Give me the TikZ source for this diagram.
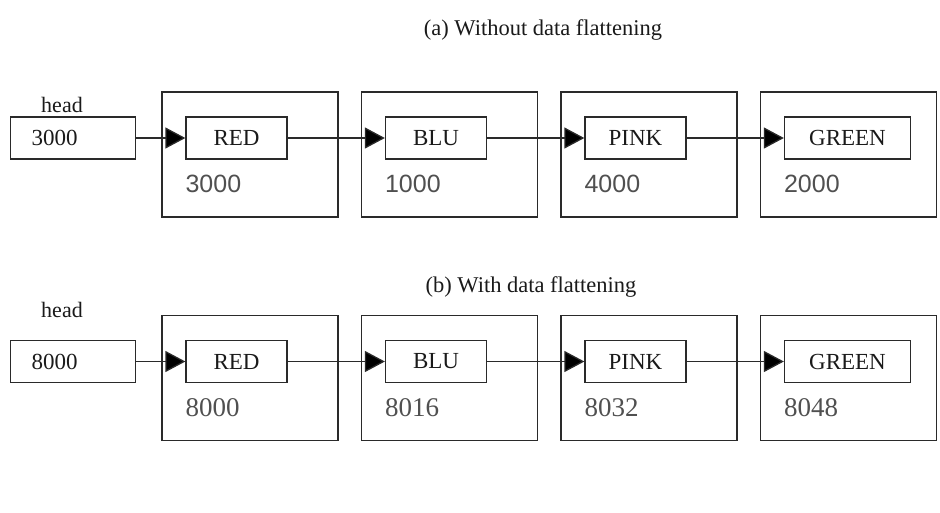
\documentclass[tikz,border=0pt]{standalone}
\usepackage{fontspec}
\setmainfont{Liberation Serif}
\newfontfamily\adrfont{Liberation Sans}
\usepackage{xcolor}
\usepackage{tikz}
\usetikzlibrary{arrows.meta,positioning,calc}
\definecolor{listline}{HTML}{2A2A2A}
\definecolor{listtext}{HTML}{1A1A1A}
\definecolor{adrgray}{HTML}{505050}

\begin{document}
\begin{tikzpicture}[
    x=1pt,y=1pt,
    cellule/.style  = {draw=listline, line width=1.3pt, minimum width=176pt,
                       minimum height=125pt, inner sep=0pt},
    donnee/.style   = {draw=listline, line width=1.3pt, fill=white,
                       minimum width=101pt, minimum height=42pt, inner sep=0pt,
                       font=\fontsize{23}{23}\selectfont, text=listtext},
    tete/.style     = {draw=listline, line width=1.3pt, minimum height=42pt,
                       text width=83pt, inner xsep=21pt, inner ysep=0pt,
                       align=left, font=\fontsize{23}{23}\selectfont, text=listtext},
    adresse/.style  = {font=\adrfont\fontsize{25}{25}\selectfont, text=adrgray,
                       inner sep=0pt},
    adresseb/.style = {font=\fontsize{27}{27}\selectfont, text=adrgray,
                       inner sep=0pt},
    nomtete/.style  = {font=\fontsize{22}{22}\selectfont, text=listtext},
    titre/.style    = {font=\fontsize{22.5}{22.5}\selectfont, text=listtext},
    lien/.style     = {listline, line width=1.3pt,
                       -{Triangle[length=20pt,width=21pt,fill=black]}},
  ]
  \useasboundingbox (0,0) rectangle (940,-512);

  % ── (a) Sans aplatissement ──────────────────────────────────────────────
  \node[titre] (ta) at (543,-30) {(a) Without data flattening};

  \foreach \i/\x/\w/\val/\adr in {1/250/101/RED/3000, 2/449.5/101/BLU/1000,
                                  3/649/101/PINK/4000, 4/848.5/126/GREEN/2000}{
    \node[cellule] (ca\i) at (\x,-154.5) {};
    \node[donnee, minimum width=\w pt,
          below right=25pt and 24pt of ca\i.north west] (da\i) {\val};
    \node[adresse, below=15pt of da\i.south west, anchor=north west] (aa\i) {\adr};
  }

  \node[tete, left=49pt of da1] (ha) {3000};
  \node[nomtete] (nha) at (62,-105) {head};

  \draw[lien] (ha) -- (da1);
  \foreach \i/\j in {1/2,2/3,3/4}
    \draw[lien] (da\i) -- (da\j);

  % ── (b) Avec aplatissement ──────────────────────────────────────────────
  \node[titre] (tb) at (531,-287) {(b) With data flattening};

  \foreach \i/\x/\w/\val/\adr in {1/250/101/RED/8000, 2/449.5/101/BLU/8016,
                                  3/649/101/PINK/8032, 4/848.5/126/GREEN/8048}{
    \node[cellule] (cb\i) at (\x,-378) {};
    \node[donnee, minimum width=\w pt,
          below right=25pt and 24pt of cb\i.north west] (db\i) {\val};
    \node[adresseb, below=15pt of db\i.south west, anchor=north west] (ab\i) {\adr};
  }

  \node[tete, left=49pt of db1] (hb) {8000};
  \node[nomtete] (nhb) at (62,-310) {head};

  \draw[lien] (hb) -- (db1);
  \foreach \i/\j in {1/2,2/3,3/4}
    \draw[lien] (db\i) -- (db\j);

\end{tikzpicture}
\end{document}
